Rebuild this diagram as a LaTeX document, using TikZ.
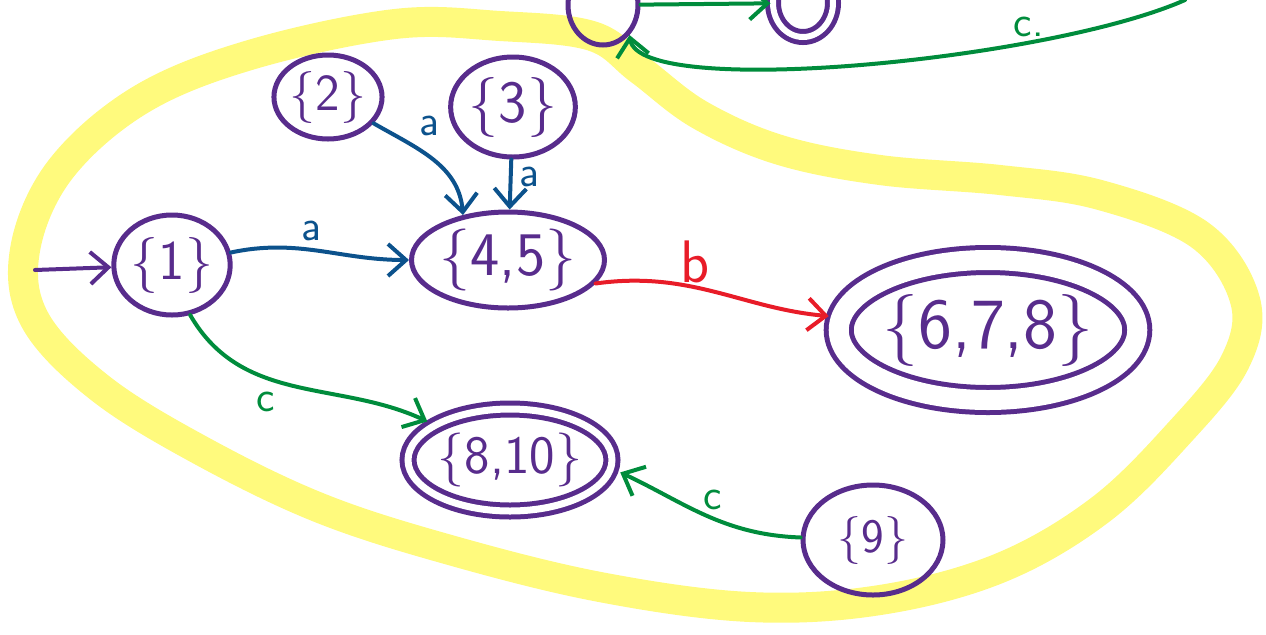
\documentclass[tikz,border=0pt]{standalone}
\usetikzlibrary{shapes.geometric,arrows.meta}
\definecolor{statecol}{RGB}{88,44,140}
\definecolor{acol}{RGB}{12,82,140}
\definecolor{bcol}{RGB}{232,28,40}
\definecolor{ccol}{RGB}{0,140,60}
\definecolor{bandcol}{RGB}{255,250,125}
\tikzset{
  state/.style={ellipse, draw=statecol, line width=2.5pt, text=statecol, inner sep=0pt,
    font=\sffamily\fontsize{28}{30}\selectfont},
  final/.style={state, double=white},
  edge/.style={line width=2pt, line cap=round, -{Straight Barb[length=9pt,width=16pt,line width=2pt]}},
  lbl/.style={font=\sffamily\fontsize{22}{24}\selectfont}
}
\begin{document}
\begin{tikzpicture}[x=0.5pt, y=0.5pt]
  \useasboundingbox (0,0) rectangle (1266,-634);
  \clip (0,0) rectangle (1266,-634);
  % yellow band
  \draw[bandcol, line width=15pt, line join=round] plot[smooth cycle, tension=0.6] coordinates {
    (395,-24) (500,-26) (592,-36) (640,-70) (700,-115) (780,-150) (880,-170) (1000,-180)
    (1100,-195) (1200,-235) (1245,-300) (1235,-362) (1180,-432) (1100,-510) (1000,-568)
    (880,-600) (750,-607) (600,-587) (450,-550) (320,-508) (200,-450) (100,-388)
    (35,-320) (25,-250) (60,-170) (140,-100) (250,-55)};
  % states
  \node[state, minimum width=52pt, minimum height=50pt] (n1) at (172,-265) {\{1\}};
  \node[state, minimum width=48pt, minimum height=42pt, font=\sffamily\fontsize{26}{28}\selectfont] (n2) at (328,-97) {\{2\}};
  \node[state, minimum width=57pt, minimum height=50pt, font=\sffamily\fontsize{30}{32}\selectfont] (n3) at (513,-107) {\{3\}};
  \node[state, minimum width=85pt, minimum height=48pt, font=\sffamily\fontsize{31}{33}\selectfont] (n45) at (508,-260) {\{4,5\}};
  \node[final, double distance=10pt, minimum width=142pt, minimum height=70pt,
    font=\sffamily\fontsize{36}{38}\selectfont] (n678) at (988,-330) {\{6,7,8\}};
  \node[final, double distance=3.5pt, minimum width=101pt, minimum height=51pt,
    font=\sffamily\fontsize{27}{29}\selectfont] (n810) at (510,-460) {\{8,10\}};
  \node[state, minimum width=70pt, minimum height=55pt, font=\sffamily\fontsize{24}{26}\selectfont] (n9) at (873,-540) {\{9\}};
  \node[state, minimum width=35pt, minimum height=40pt] (tl) at (603,-5) {};
  \node[final, double distance=3pt, minimum width=30pt, minimum height=34pt] (tr) at (803,-3) {};
  \coordinate (start) at (35,-270);
  \coordinate (topin) at (1185,0);
  % transitions
  \draw[edge, statecol] (start) -- (n1);
  \draw[edge, acol] (n1) to[out=12, in=180] node[lbl, above, pos=0.45] {a} (n45);
  \draw[edge, acol] (n2) to[out=-30, in=95] node[lbl, above right, pos=0.3] {a} (n45.135);
  \draw[edge, acol] (n3) -- node[lbl, right, pos=0.35] {a} (n45);
  \draw[edge, bcol, shorten >=5pt] (n45.-15) to[out=8, in=175] node[lbl, above, pos=0.4, inner sep=1pt, font=\sffamily\fontsize{30}{32}\selectfont] {b} (n678);
  \draw[edge, ccol, shorten >=3pt] (n1.290) to[out=-60, in=155] node[lbl, below left, pos=0.45] {c} (n810);
  \draw[edge, ccol, shorten >=4pt] (n9) to[out=178, in=-25] node[lbl, above, pos=0.45] {c} (n810.-5);
  \draw[edge, ccol] (tl) -- (tr);
  \draw[edge, ccol] (topin) .. controls (1050,-60) and (640,-100) .. node[lbl, above, pos=0.27, inner sep=2pt] {c.} (tl.south east);
\end{tikzpicture}
\end{document}
